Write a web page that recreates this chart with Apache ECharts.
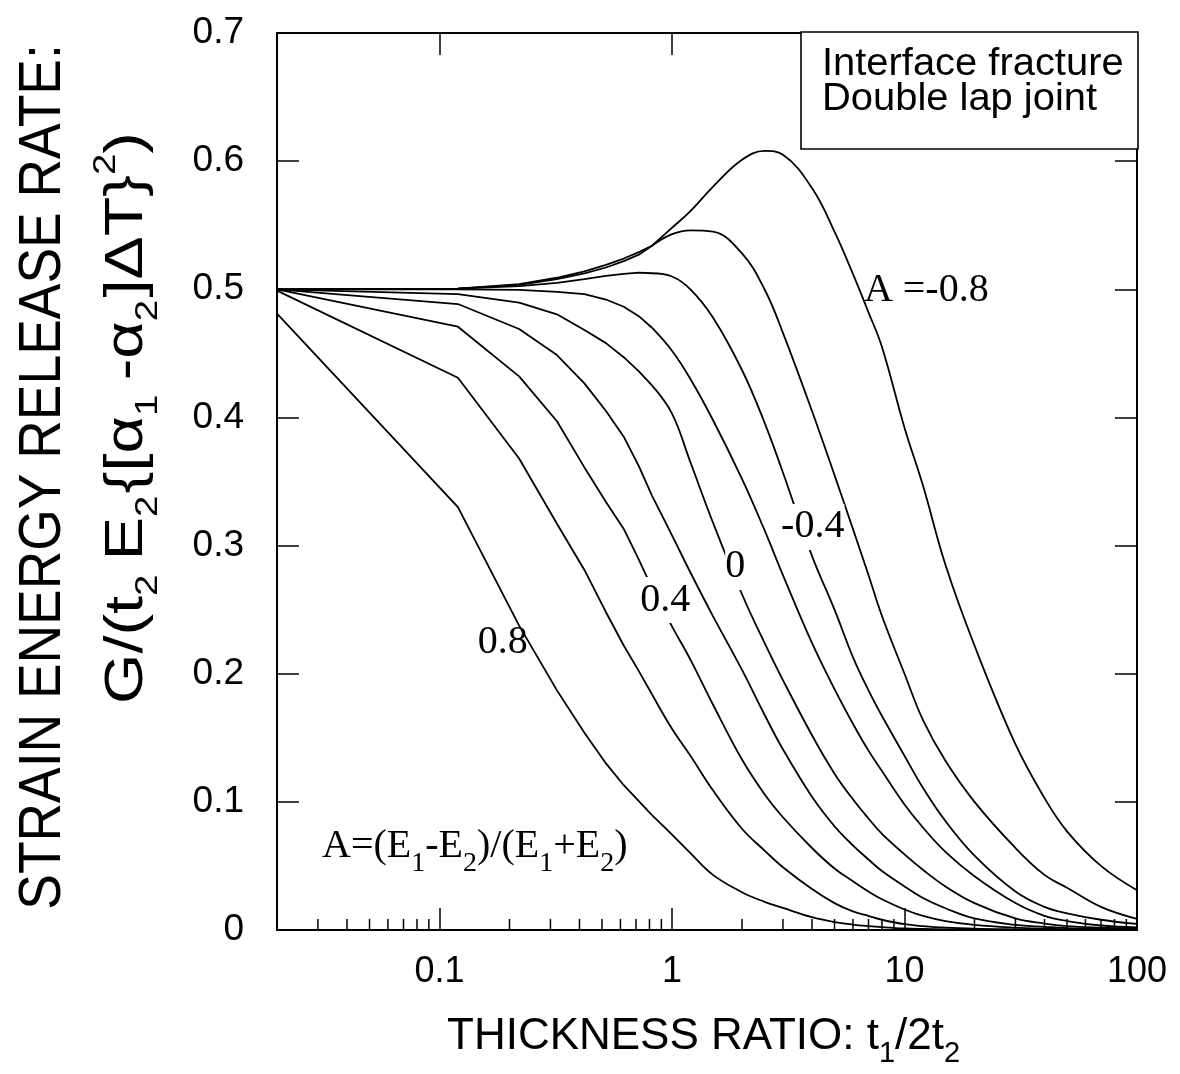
<!DOCTYPE html>
<html>
<head>
<meta charset="utf-8">
<title>Interface fracture – double lap joint</title>
<script src="https://cdn.jsdelivr.net/npm/echarts@6/dist/echarts.min.js"></script>
<style>
  html, body { margin: 0; padding: 0; background: #fff; }
  #chart { width: 1180px; height: 1074px; }
</style>
</head>
<body>
<div id="chart"></div>
<script>
// Thickness ratio t1/2t2 (x) at which each curve is sampled
const thicknessRatio = [0.02, 0.12, 0.22, 0.32, 0.42, 0.52, 0.62, 0.72, 0.82, 1.0, 1.2, 1.5, 2, 2.5, 3, 4, 5, 6, 7, 8, 10, 12, 15, 20, 30, 40, 50, 70, 100];

// Normalised strain energy release rate for each stiffness mismatch A
const gA_p08 = [0.481, 0.330, 0.2375, 0.187, 0.154, 0.130, 0.113, 0.1005, 0.0897, 0.0745, 0.060, 0.043, 0.0295, 0.022, 0.0172, 0.0100, 0.0062, 0.0042, 0.003, 0.0022, 0.0012, 0.0008, 0.0005, 0.0003, 0.0001, 0.0001, 0, 0, 0];
const gA_p06 = [0.499, 0.431, 0.368, 0.317, 0.281, 0.248, 0.222, 0.202, 0.184, 0.157, 0.136, 0.109, 0.079, 0.062, 0.049, 0.032, 0.021, 0.0145, 0.011, 0.008, 0.0045, 0.003, 0.0018, 0.001, 0.0005, 0.0003, 0.0002, 0.0001, 0];
const gA_p04 = [0.500, 0.4708, 0.432, 0.397, 0.361, 0.334, 0.313, 0.289, 0.267, 0.237, 0.211, 0.176, 0.133, 0.106, 0.088, 0.064, 0.048, 0.038, 0.030, 0.024, 0.016, 0.011, 0.007, 0.004, 0.0018, 0.001, 0.0007, 0.0004, 0.0002];
const gA_p02 = [0.500, 0.4885, 0.469, 0.4487, 0.4266, 0.405, 0.385, 0.362, 0.339, 0.308, 0.279, 0.245, 0.203, 0.168, 0.141, 0.104, 0.081, 0.066, 0.055, 0.046, 0.034, 0.025, 0.017, 0.009, 0.004, 0.0025, 0.0015, 0.0008, 0.0004];
const gA_0 = [0.500, 0.4963, 0.4896, 0.4805, 0.4682, 0.458, 0.447, 0.436, 0.425, 0.403, 0.365, 0.318, 0.262, 0.224, 0.195, 0.152, 0.122, 0.102, 0.087, 0.075, 0.059, 0.047, 0.034, 0.021, 0.009, 0.005, 0.003, 0.0018, 0.001];
const gA_m02 = [0.500, 0.500, 0.4995, 0.498, 0.4963, 0.492, 0.4864, 0.479, 0.470, 0.452, 0.430, 0.398, 0.352, 0.312, 0.277, 0.224, 0.188, 0.161, 0.140, 0.124, 0.098, 0.080, 0.061, 0.042, 0.021, 0.011, 0.007, 0.0035, 0.002];
const gA_m04 = [0.500, 0.5005, 0.5025, 0.505, 0.508, 0.5105, 0.512, 0.513, 0.5125, 0.510, 0.500, 0.478, 0.437, 0.396, 0.357, 0.292, 0.250, 0.213, 0.187, 0.167, 0.136, 0.111, 0.085, 0.058, 0.030, 0.018, 0.013, 0.008, 0.0047];
const gA_m06 = [0.500, 0.5005, 0.504, 0.509, 0.514, 0.519, 0.524, 0.529, 0.534, 0.543, 0.546, 0.545, 0.528, 0.500, 0.466, 0.405, 0.355, 0.313, 0.277, 0.245, 0.200, 0.164, 0.132, 0.100, 0.064, 0.043, 0.033, 0.018, 0.0086];
const gA_m08 = [0.500, 0.5005, 0.5035, 0.508, 0.5125, 0.517, 0.522, 0.527, 0.534, 0.548, 0.561, 0.580, 0.601, 0.608, 0.605, 0.579, 0.545, 0.512, 0.482, 0.455, 0.392, 0.347, 0.285, 0.222, 0.145, 0.103, 0.077, 0.050, 0.031];

const curveNames = ['A=0.8', 'A=0.6', 'A=0.4', 'A=0.2', 'A=0', 'A=-0.2', 'A=-0.4', 'A=-0.6', 'A=-0.8'];
const curveValues = [gA_p08, gA_p06, gA_p04, gA_p02, gA_0, gA_m02, gA_m04, gA_m06, gA_m08];

// Axis labels
const xTickLabels = ['0.1', '1', '10', '100'];          // decades 10^-1 .. 10^2
const yTickLabels = ['0', '0.1', '0.2', '0.3', '0.4', '0.5', '0.6', '0.7'];
const xMinorTicks = [0.03, 0.04, 0.05, 0.06, 0.07, 0.08, 0.09,
                     0.2, 0.3, 0.4, 0.5, 0.6, 0.7, 0.8, 0.9,
                     2, 3, 4, 5, 6, 7, 8, 9,
                     20, 30, 40, 50, 60, 70, 80, 90];

// Curve captions: text and the (x, G) point they are centred on
const captionText = ['0.8', '0.4', '0', '-0.4', 'A =-0.8'];
const captionAt = [[0.187, 0.224], [0.936, 0.2575], [1.87, 0.2833], [4.03, 0.3145], [12.41, 0.4987]];
const captionCutsLine = [false, true, true, true, false];

const SANS = '"Liberation Sans", Arial, Helvetica, sans-serif';
const SERIF = '"Liberation Serif", "Times New Roman", Times, serif';
const INK = '#000';

// the coarse, evenly stepped samples (x <= 0.82) are joined by straight segments;
// the dense part of each curve beyond that is drawn smoothly
const KNEE = 8;

const chart = echarts.init(document.getElementById('chart'), null, { renderer: 'canvas' });

const frameLine = { show: true, onZero: false, lineStyle: { color: INK, width: 2 } };
const majorTick = { show: true, inside: true, length: 22, lineStyle: { color: INK, width: 1.5 } };

function decadeLabel(v) {
  const lg = Math.log10(v);
  const k = Math.round(lg);
  if (Math.abs(lg - k) > 1e-6) return '';
  return xTickLabels[k + 1] || '';
}

function lineSeries(name, points, smooth) {
  return {
    name: name,
    type: 'line',
    xAxisIndex: 0,
    yAxisIndex: 0,
    showSymbol: false,
    symbol: 'none',
    smooth: smooth,
    silent: true,
    z: 2,
    lineStyle: { color: INK, width: 1.8 },
    data: points
  };
}

const curveSeries = [];
curveValues.forEach((vals, i) => {
  const pts = thicknessRatio.map((x, j) => [x, vals[j]]);
  curveSeries.push(lineSeries(curveNames[i], pts.slice(0, KNEE + 1), false));
  curveSeries.push(lineSeries(curveNames[i], pts.slice(KNEE), 0.4));
});

// short inward minor ticks on the bottom log axis
const minorTickSeries = {
  type: 'custom',
  xAxisIndex: 0,
  yAxisIndex: 0,
  silent: true,
  z: 3,
  data: xMinorTicks.map(v => [v, 0]),
  renderItem: function (params, api) {
    const p = api.coord([api.value(0), 0]);
    return {
      type: 'line',
      shape: { x1: p[0], y1: p[1], x2: p[0], y2: p[1] - 11 },
      style: { stroke: INK, lineWidth: 1.5 }
    };
  }
};

const fixedGraphics = [
  // y-axis title, line 1
  {
    id: 'ytitle1', type: 'text', x: 43, y: 477, rotation: Math.PI / 2, scaleX: 0.89, z: 50,
    style: { text: 'STRAIN ENERGY RELEASE RATE:', fontFamily: SANS, fontSize: 60, fill: INK, align: 'center', verticalAlign: 'middle' }
  },
  // y-axis title, line 2 (normalisation)
  {
    id: 'ytitle2', type: 'text', x: 127, y: 418, rotation: Math.PI / 2, scaleX: 1.2, z: 50,
    style: {
      text: 'G/(t{s|2}E{q|2}{[α{s|1}-α{q|2}]ΔT}{p|2})',
      fontFamily: SANS, fontSize: 54, lineHeight: 74, fill: INK, align: 'center', verticalAlign: 'middle',
      rich: {
        s: { fontFamily: SANS, fontSize: 32, lineHeight: 32, padding: [42, 12, 0, 0], fill: INK },
        q: { fontFamily: SANS, fontSize: 32, lineHeight: 32, padding: [42, 2, 0, 0], fill: INK },
        p: { fontFamily: SANS, fontSize: 32, lineHeight: 32, padding: [0, 0, 42, 0], fill: INK }
      }
    }
  },
  // x-axis title
  {
    id: 'xtitle', type: 'text', x: 447, y: 1037, z: 50,
    style: {
      text: 'THICKNESS RATIO: t{s|1}/2t{s|2}',
      fontFamily: SANS, fontSize: 44, lineHeight: 62, fill: INK, align: 'left', verticalAlign: 'middle',
      rich: {
        s: { fontFamily: SANS, fontSize: 29, lineHeight: 29, padding: [33, 0, 0, 0], fill: INK }
      }
    }
  },
  // definition of A
  {
    id: 'adef', type: 'text', x: 322, y: 846, z: 50,
    style: {
      text: 'A=(E{s|1}-E{s|2})/(E{s|1}+E{s|2})',
      fontFamily: SERIF, fontSize: 40, lineHeight: 64, fill: INK, align: 'left', verticalAlign: 'middle',
      rich: {
        s: { fontFamily: SERIF, fontSize: 28, lineHeight: 28, padding: [36, 0, 0, 0], fill: INK }
      }
    }
  },
  // key box
  {
    id: 'keybox', type: 'rect', z: 60,
    shape: { x: 801, y: 32, width: 337, height: 117 },
    style: { fill: '#fff', stroke: INK, lineWidth: 1.6 }
  },
  {
    id: 'key1', type: 'text', x: 822, y: 65, z: 61, scaleX: 1.05,
    style: { text: 'Interface fracture', fontFamily: SANS, fontSize: 38, fill: INK, align: 'left', verticalAlign: 'middle' }
  },
  {
    id: 'key2', type: 'text', x: 822, y: 100, z: 61, scaleX: 1.05,
    style: { text: 'Double lap joint', fontFamily: SANS, fontSize: 38, fill: INK, align: 'left', verticalAlign: 'middle' }
  }
];

const option = {
  animation: false,
  backgroundColor: '#fff',
  textStyle: { fontFamily: SANS, color: INK },
  grid: { left: 277, top: 33, width: 860, height: 897, containLabel: false },
  xAxis: [
    {
      type: 'log', logBase: 10, min: 0.02, max: 100, position: 'bottom',
      axisLine: frameLine, axisTick: majorTick,
      minorTick: { show: false }, splitLine: { show: false }, minorSplitLine: { show: false },
      axisLabel: { show: true, color: INK, fontFamily: SANS, fontSize: 36, margin: 24, formatter: decadeLabel }
    },
    {
      type: 'log', logBase: 10, min: 0.02, max: 100, position: 'top',
      axisLine: frameLine, axisTick: majorTick,
      minorTick: { show: false }, splitLine: { show: false },
      axisLabel: { show: false }
    }
  ],
  yAxis: [
    {
      type: 'value', min: 0, max: 0.7, interval: 0.1, position: 'left',
      axisLine: frameLine, axisTick: majorTick, splitLine: { show: false },
      axisLabel: { color: INK, fontFamily: SANS, fontSize: 37, margin: 33, formatter: v => yTickLabels[Math.round(v * 10)] }
    },
    {
      type: 'value', min: 0, max: 0.7, interval: 0.1, position: 'right',
      axisLine: frameLine, axisTick: majorTick, splitLine: { show: false },
      axisLabel: { show: false }
    }
  ],
  series: curveSeries.concat([minorTickSeries]),
  graphic: fixedGraphics
};

chart.setOption(option);

// curve captions, positioned through the axes' own scales
const captionGraphics = captionText.map((text, i) => {
  const p = chart.convertToPixel({ xAxisIndex: 0, yAxisIndex: 0 }, captionAt[i]);
  const style = { text: text, fontFamily: SERIF, fontSize: 40, fill: INK, align: 'center', verticalAlign: 'middle' };
  if (captionCutsLine[i]) {
    style.backgroundColor = '#fff';
    style.padding = [3, 0];
  }
  return { id: 'caption' + i, type: 'text', x: p[0], y: p[1], z: 70, style: style };
});
chart.setOption({ graphic: fixedGraphics.concat(captionGraphics) });
</script>
</body>
</html>
